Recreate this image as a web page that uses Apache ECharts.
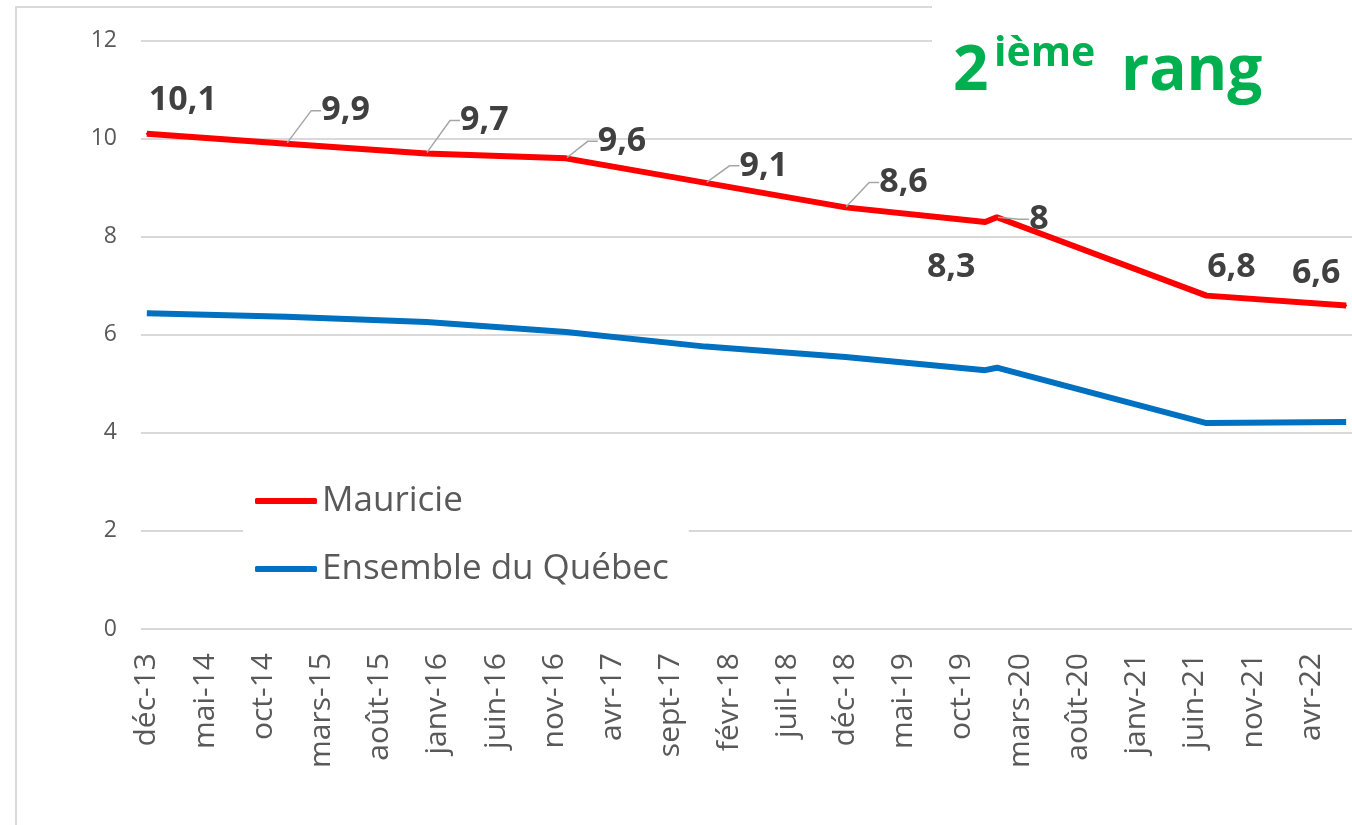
<!DOCTYPE html>
<html>
<head>
<meta charset="utf-8">
<title>Mauricie vs Québec</title>
<script src="https://cdn.jsdelivr.net/npm/echarts@6/dist/echarts.min.js"></script>
<style>
	html, body { margin: 0; padding: 0; background: #fff; }
	#myChart { width: 1352px; height: 825px; }
</style>
</head>
<body>
<div id="myChart"></div>
<script>
	// axe des mois : déc-13 à juil-22
	var moisNoms = ['janv', 'févr', 'mars', 'avr', 'mai', 'juin', 'juil', 'août', 'sept', 'oct', 'nov', 'déc'];
	var premierMois = 11; // déc
	var premiereAnnee = 13;
	var nbMois = 104;
	var categories = [];
	for (var i = 0; i < nbMois; i++) {
		var m = (premierMois + i) % 12;
		var a = premiereAnnee + Math.floor((premierMois + i) / 12);
		categories.push(moisNoms[m] + '-' + a);
	}

	// données
	var dates = ['déc-13', 'déc-14', 'déc-15', 'déc-16', 'déc-17', 'déc-18', 'déc-19', 'janv-20', 'juil-21', 'juil-22'];
	var mauricie = [10.1, 9.9, 9.7, 9.6, 9.1, 8.6, 8.3, 8.4, 6.8, 6.6];
	var quebec = [6.44, 6.37, 6.26, 6.06, 5.76, 5.55, 5.28, 5.33, 4.2, 4.22];
	var etiquettes = ['10,1', '9,9', '9,7', '9,6', '9,1', '8,6', '8,3', '8', '6,8', '6,6'];
	var yTicks = [0, 2, 4, 6, 8, 10, 12];

	// placement des étiquettes (décalage du centre du texte par rapport au point)
	var etiqDx = [36, 53, 52, 50, 52, 52, -34, 36, 25, -30];
	var etiqDy = [-34, -33, -33, -17, -17, -25, 45, 2, -28, -32];
	var guide = [false, true, true, true, true, true, false, true, false, false];
	var padGauche = 12;

	var myChart = echarts.init(document.getElementById('myChart'));

	myChart.setOption({
		animation: false,
		textStyle: { fontFamily: 'Open Sans' },
		color: ['#FF0000', '#0070C0'],
		grid: {
			left: 141,
			top: 40.7,
			width: 1216,
			bottom: 196,
			containLabel: false
		},
		legend: {
			orient: 'vertical',
			left: 243,
			top: 455,
			width: 420,
			backgroundColor: '#fff',
			padding: [26, 20, 20, 12],
			itemGap: 28,
			itemWidth: 62,
			itemHeight: 6,
			icon: 'roundRect',
			textStyle: { fontSize: 35, color: '#595959', lineHeight: 40 },
			data: ['Mauricie', 'Ensemble du Québec']
		},
		xAxis: {
			type: 'category',
			data: categories,
			boundaryGap: true,
			axisLine: { show: false },
			axisTick: { show: false },
			axisLabel: {
				interval: 4,
				rotate: 90,
				margin: 24,
				fontSize: 30,
				color: '#595959'
			},
			splitLine: { show: false }
		},
		yAxis: {
			type: 'value',
			min: yTicks[0],
			max: yTicks[yTicks.length - 1],
			interval: yTicks[1] - yTicks[0],
			axisLine: { show: false },
			axisTick: { show: false },
			axisLabel: { fontSize: 23, color: '#595959', margin: 24 },
			splitLine: { lineStyle: { color: '#D9D9D9', width: 2 } }
		},
		graphic: [
			// cadre du graphique
			{
				type: 'rect',
				z: 1,
				shape: { x: 16, y: 7, width: 1500, height: 1000 },
				style: { fill: 'none', stroke: '#D9D9D9', lineWidth: 2 }
			},
			// boîte blanche du titre
			{
				type: 'rect',
				z: 50,
				shape: { x: 932, y: 0, width: 430, height: 118 },
				style: { fill: '#fff' }
			},
			{
				type: 'text',
				z: 51,
				x: 953,
				y: 72,
				style: { text: '2', font: 'bold 62px "Open Sans"', fill: '#00B050', verticalAlign: 'middle' }
			},
			{
				type: 'text',
				z: 51,
				x: 994,
				y: 54,
				style: { text: 'ième', font: 'bold 41px "Open Sans"', fill: '#00B050', verticalAlign: 'middle' }
			},
			{
				type: 'text',
				z: 51,
				x: 1121,
				y: 72,
				style: { text: 'rang', font: 'bold 62px "Open Sans"', fill: '#00B050', verticalAlign: 'middle' }
			}
		],
		series: [{
			name: 'Mauricie',
			type: 'line',
			z: 3,
			symbol: 'circle',
			symbolSize: 2,
			showSymbol: true,
			lineStyle: { color: '#FF0000', width: 6 },
			itemStyle: { color: '#FF0000' },
			emphasis: { disabled: true },
			label: {
				show: true,
				position: 'inside',
				fontSize: 34,
				fontWeight: 'bold',
				color: '#404040'
			},
			labelLine: {
				show: false,
				length2: 10,
				lineStyle: { color: '#A6A6A6', width: 1.5 }
			},
			// x / y donnés = coin haut-gauche de la boîte de l'étiquette
			labelLayout: function(p) {
				var k = p.dataIndex;
				var cx = p.rect.x + p.rect.width / 2;
				var cy = p.rect.y + p.rect.height / 2;
				var corr = guide[k] ? padGauche / 2 : 0;
				return {
					x: cx + etiqDx[k] - corr - p.labelRect.width / 2,
					y: cy + etiqDy[k] - p.labelRect.height / 2
				};
			},
			data: dates.map(function(d, k) {
				return {
					value: [d, mauricie[k]],
					label: { formatter: etiquettes[k], padding: guide[k] ? [0, 0, 0, padGauche] : 0 },
					labelLine: { show: guide[k] }
				};
			})
		}, {
			name: 'Ensemble du Québec',
			type: 'line',
			z: 2,
			symbol: 'none',
			lineStyle: { color: '#0070C0', width: 6 },
			itemStyle: { color: '#0070C0' },
			emphasis: { disabled: true },
			data: dates.map(function(d, k) {
				return [d, quebec[k]];
			})
		}]
	});
</script>
</body>
</html>
